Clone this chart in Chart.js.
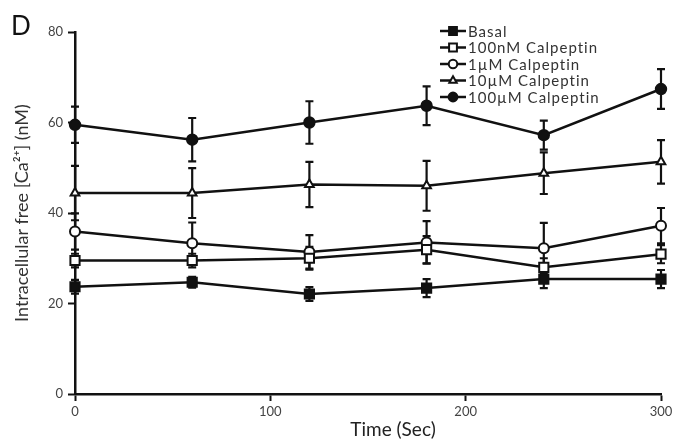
<!DOCTYPE html>
<html>
<head>
<meta charset="utf-8">
<script src="https://cdn.jsdelivr.net/npm/chart.js@4.4.1/dist/chart.umd.min.js"></script>
<style>
  html, body { margin: 0; padding: 0; background: #fff; }
  #wrap { width: 696px; height: 446px; position: relative; }
</style>
</head>
<body>
<div id="wrap"><canvas id="myChart"></canvas></div>
<script>
// time points (sec)
const times = [0, 60, 120, 180, 240, 300];
const xTicks = [0, 100, 200, 300];
const yTicks = [0, 20, 40, 60, 80];

const labels = ["Basal", "100nM Calpeptin", "1µM Calpeptin", "10µM Calpeptin", "100µM Calpeptin"];

const basal = [23.7, 24.7, 22.1, 23.4, 25.4, 25.4];
const basalErr = [1.5, 1.2, 1.5, 2.0, 2.0, 2.0];
const calp100nM = [29.5, 29.5, 30.0, 31.9, 28.0, 30.9];
const calp100nMErr = [1.5, 1.5, 2.5, 3.0, 2.0, 2.0];
const calp1uM = [35.9, 33.3, 31.4, 33.5, 32.2, 37.2];
const calp1uMErr = [4.0, 4.6, 3.7, 4.7, 5.6, 3.9];
const calp10uM = [44.4, 44.4, 46.3, 46.0, 48.8, 51.3];
const calp10uMErr = [6.0, 5.5, 5.0, 5.5, 4.6, 4.8];
const calp100uM = [59.5, 56.2, 60.0, 63.7, 57.2, 67.4];
const calp100uMErr = [4.0, 4.8, 4.7, 4.3, 3.2, 4.4];

const INK = "#111";
const FONT = "Lato, 'Open Sans', sans-serif";

const makeSet = (label, values, errors, pointStyle, fill, radius) => ({
  label,
  data: values.map((v, i) => ({ x: times[i], y: v })),
  errors,
  borderColor: INK,
  borderWidth: 2.5,
  pointStyle,
  pointRadius: radius,
  pointHoverRadius: radius,
  pointBackgroundColor: fill,
  pointBorderColor: INK,
  pointBorderWidth: 2,
  tension: 0,
  clip: false,
});

const datasets = [
  makeSet(labels[0], basal, basalErr, "rect", INK, 6.5),
  makeSet(labels[1], calp100nM, calp100nMErr, "rect", "#fff", 6.5),
  makeSet(labels[2], calp1uM, calp1uMErr, "circle", "#fff", 5),
  makeSet(labels[3], calp10uM, calp10uMErr, "triangle", "#fff", 5),
  makeSet(labels[4], calp100uM, calp100uMErr, "circle", INK, 5.2),
];

// error bars drawn under the markers
const errorBars = {
  id: "errorBars",
  beforeDatasetsDraw(chart) {
    const ctx = chart.ctx;
    const yScale = chart.scales.y;
    ctx.save();
    ctx.strokeStyle = INK;
    ctx.lineWidth = 2.2;
    chart.data.datasets.forEach((ds, i) => {
      const meta = chart.getDatasetMeta(i);
      meta.data.forEach((pt, j) => {
        const v = ds.data[j].y;
        const e = ds.errors[j];
        const top = yScale.getPixelForValue(v + e);
        const bot = yScale.getPixelForValue(v - e);
        ctx.beginPath();
        ctx.moveTo(pt.x, top);
        ctx.lineTo(pt.x, bot);
        ctx.moveTo(pt.x - 4, top);
        ctx.lineTo(pt.x + 4, top);
        ctx.moveTo(pt.x - 4, bot);
        ctx.lineTo(pt.x + 4, bot);
        ctx.stroke();
      });
    });
    ctx.restore();
  },
};

// legend, panel letter and x title
const extras = {
  id: "extras",
  afterDraw(chart) {
    const ctx = chart.ctx;
    ctx.save();

    ctx.fillStyle = INK;
    ctx.font = `26px ${FONT}`;
    ctx.textBaseline = "alphabetic";
    ctx.textAlign = "left";
    ctx.fillText("D", 11, 35);

    ctx.fillStyle = "#222";
    ctx.font = `19px ${FONT}`;
    ctx.textAlign = "center";
    ctx.textBaseline = "middle";
    ctx.fillText("Time (Sec)", 393, 430);

    const lx = 440, lw = 26, ly = 31, step = 16.5;
    chart.data.datasets.forEach((ds, i) => {
      const y = ly + i * step;
      ctx.strokeStyle = INK;
      ctx.lineWidth = 2.5;
      ctx.beginPath();
      ctx.moveTo(lx, y);
      ctx.lineTo(lx + lw, y);
      ctx.stroke();
      ctx.fillStyle = ds.pointBackgroundColor;
      ctx.lineWidth = 2;
      Chart.helpers.drawPoint(ctx, {
        pointStyle: ds.pointStyle,
        radius: ds.pointRadius * 0.85,
        borderWidth: 2,
        rotation: 0,
      }, lx + lw / 2, y);
      ctx.fillStyle = "#333";
      ctx.font = `15px ${FONT}`;
      ctx.letterSpacing = "1px";
      ctx.textAlign = "left";
      ctx.textBaseline = "middle";
      ctx.fillText(ds.label, lx + lw + 2, y + 1);
      ctx.letterSpacing = "0px";
    });
    ctx.restore();
  },
};

const axisGrid = {
  drawOnChartArea: false,
  drawTicks: true,
  tickLength: 7,
  tickColor: INK,
  tickWidth: 2,
};

const ctx = document.getElementById("myChart").getContext("2d");
const myChart = new Chart(ctx, {
  type: "line",
  data: { datasets },
  options: {
    responsive: true,
    maintainAspectRatio: false,
    animation: false,
    events: [],
    layout: { padding: { top: 32, right: 35, left: 0, bottom: 0 } },
    plugins: {
      legend: { display: false },
      tooltip: { enabled: false },
    },
    scales: {
      x: {
        type: "linear",
        min: 0,
        max: 300,
        afterBuildTicks: (s) => { s.ticks = xTicks.map((v) => ({ value: v })); },
        afterFit: (s) => { s.height = 52; },
        ticks: { color: "#444", font: { family: FONT, size: 13 }, padding: 3 },
        grid: axisGrid,
        border: { color: INK, width: 2.5 },
      },
      y: {
        min: 0,
        max: 80,
        afterBuildTicks: (s) => { s.ticks = yTicks.map((v) => ({ value: v })); },
        afterFit: (s) => { s.width = 75; },
        ticks: { color: "#444", font: { family: FONT, size: 13 }, padding: 5 },
        grid: axisGrid,
        border: { color: INK, width: 2.5 },
        title: {
          display: true,
          text: "Intracellular free [Ca²⁺] (nM)",
          color: "#333",
          font: { family: FONT, size: 18 },
          padding: { top: 11, bottom: 0 },
        },
      },
    },
  },
  plugins: [errorBars, extras],
});
</script>
</body>
</html>
